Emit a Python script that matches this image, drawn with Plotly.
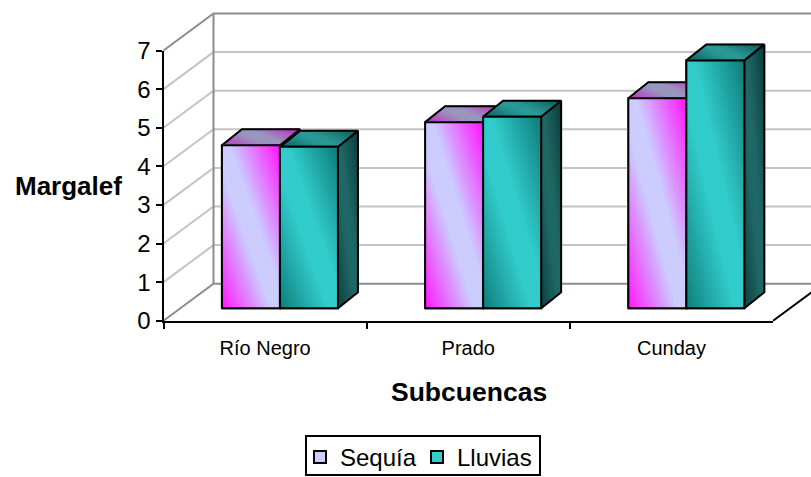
import plotly.graph_objects as go

categories = ["Río Negro", "Prado", "Cunday"]
series_names = ["Sequía", "Lluvias"]
sequia = [4.22, 4.82, 5.44]
lluvias = [4.18, 4.96, 6.42]
y_ticks = [0, 1, 2, 3, 4, 5, 6, 7]

W, H = 811, 477
CAT_PX, VAL_PX = 203.2, 38.6      # pixels per category / per unit of value
ORIGIN_X, ORIGIN_Y = 163.5, 320.7  # front-left corner of the floor

WALL_DX, WALL_DY = 50 / CAT_PX, 37 / VAL_PX   # depth of the whole box
BAR_SHIFT_X, BAR_BASE = 0.073, 12.5 / VAL_PX  # bars sit partway into the box
BAR_W = 58 / CAT_PX
BAR_DX, BAR_DY = 20 / CAT_PX, 16 / VAL_PX     # depth of one bar

x_min = -0.5 - ORIGIN_X / CAT_PX
x_max = x_min + W / CAT_PX
y_min = -(H - ORIGIN_Y) / VAL_PX
y_max = ORIGIN_Y / VAL_PX

FACE_COLORS = {
    "Sequía": {
        "front": ((204, 204, 255), (255, 20, 255)),
        "top": ((152, 152, 190), (196, 40, 196)),
        "side": ((100, 100, 150), (70, 20, 90)),
    },
    "Lluvias": {
        "front": ((51, 204, 204), (14, 125, 122)),
        "top": ((42, 152, 150), (14, 92, 90)),
        "side": ((31, 104, 102), (12, 62, 62)),
    },
}
SWATCH = {"Sequía": "#CCCCFF", "Lluvias": "#33CCCC"}


def clip_halfplane(poly, limit, keep_above):
    """Clip a polygon in (s, t) against the line s + t = limit."""
    out = []
    for i, p in enumerate(poly):
        q = poly[(i + 1) % len(poly)]
        dp, dq = p[0] + p[1] - limit, q[0] + q[1] - limit
        if not keep_above:
            dp, dq = -dp, -dq
        if dp >= 0:
            out.append(p)
        if dp * dq < 0:
            r = dp / (dp - dq)
            out.append((p[0] + r * (q[0] - p[0]), p[1] + r * (q[1] - p[1])))
    return out


def add_face(fig, origin, e1, e2, colors, strips):
    """Fill a parallelogram with a two-ended diagonal gradient, then outline it."""
    mid, edge = colors
    square = [(0, 0), (1, 0), (1, 1), (0, 1)]
    for k in range(strips):
        a, b = 2 * k / strips, 2 * (k + 1) / strips
        poly = clip_halfplane(clip_halfplane(square, a, True), b, False)
        if len(poly) < 3:
            continue
        u = (a + b) / 4
        m = max(0.0, (abs(2 * u - 1) - 0.15) / 0.85)
        c = [round(mid[i] + m * (edge[i] - mid[i])) for i in range(3)]
        col = f"rgb({c[0]},{c[1]},{c[2]})"
        xs = [origin[0] + s * e1[0] + t * e2[0] for s, t in poly]
        ys = [origin[1] + s * e1[1] + t * e2[1] for s, t in poly]
        fig.add_trace(go.Scatter(
            x=xs + xs[:1], y=ys + ys[:1], mode="lines", fill="toself",
            fillcolor=col, line=dict(color=col, width=1.5),
            showlegend=False, hoverinfo="skip"))
    corners = [(0, 0), (1, 0), (1, 1), (0, 1), (0, 0)]
    fig.add_trace(go.Scatter(
        x=[origin[0] + s * e1[0] + t * e2[0] for s, t in corners],
        y=[origin[1] + s * e1[1] + t * e2[1] for s, t in corners],
        mode="lines", line=dict(color="black", width=2),
        showlegend=False, hoverinfo="skip"))


def add_line(fig, xs, ys, color, width):
    fig.add_trace(go.Scatter(x=xs, y=ys, mode="lines",
                             line=dict(color=color, width=width),
                             showlegend=False, hoverinfo="skip"))


fig = go.Figure()

# Flat bars carry the series values and the legend swatches; the shaded faces
# are painted over them in the same coordinates.
for name, values, sign in ((series_names[0], sequia, -0.5), (series_names[1], lluvias, 0.5)):
    fig.add_trace(go.Bar(
        x=[i + BAR_SHIFT_X + sign * BAR_W for i in range(len(categories))],
        y=values, base=BAR_BASE, width=BAR_W, name=name,
        marker=dict(color=SWATCH[name], line=dict(color="black", width=2)),
        hoverinfo="skip"))

# Walls and gridlines of the box
x_l, x_r = -0.5, len(categories) - 0.5
for v in y_ticks[1:-1]:
    add_line(fig, [x_l, x_l + WALL_DX, x_max], [v, v + WALL_DY, v + WALL_DY], "#C4C4C4", 2)
add_line(fig, [x_l, x_l + WALL_DX, x_max],
         [y_ticks[-1], y_ticks[-1] + WALL_DY, y_ticks[-1] + WALL_DY], "#8C8C8C", 2)
add_line(fig, [x_l + WALL_DX, x_l + WALL_DX], [WALL_DY, y_ticks[-1] + WALL_DY], "#8C8C8C", 2)
add_line(fig, [x_l, x_l + WALL_DX, x_max], [0, WALL_DY, WALL_DY], "#8C8C8C", 2)
add_line(fig, [x_r, x_r + WALL_DX], [0, WALL_DY], "black", 2)

# Bars, drawn left to right so nearer faces overlap correctly
for i in range(len(categories)):
    for name, values, left in ((series_names[0], sequia, i + BAR_SHIFT_X - BAR_W),
                               (series_names[1], lluvias, i + BAR_SHIFT_X)):
        v = values[i]
        pal = FACE_COLORS[name]
        add_face(fig, (left + BAR_W, BAR_BASE), (BAR_DX, BAR_DY), (0, v), pal["side"], 14)
        add_face(fig, (left, BAR_BASE + v), (BAR_W, 0), (BAR_DX, BAR_DY), pal["top"], 14)
        add_face(fig, (left, BAR_BASE), (BAR_W, 0), (0, v), pal["front"], 64)

# Real axes on the front plane of the box, for ticks and tick labels
fig.add_trace(go.Scatter(x=categories, y=[0, 0, 0], mode="none", xaxis="x2", yaxis="y2",
                         showlegend=False, hoverinfo="skip"))

FONT = "Liberation Sans, Arial, sans-serif"
fig.update_layout(
    width=W, height=H, autosize=False,
    margin=dict(l=0, r=0, t=0, b=0, autoexpand=False),
    paper_bgcolor="rgba(255,255,255,1)", plot_bgcolor="rgba(0,0,0,0)",
    barmode="overlay",
    font=dict(family=FONT, color="black"),
    xaxis=dict(range=[x_min, x_max], domain=[0, 1], visible=False, fixedrange=True),
    yaxis=dict(range=[y_min, y_max], domain=[0, 1], visible=False, fixedrange=True),
    xaxis2=dict(
        type="category", categoryorder="array", categoryarray=categories,
        range=[-0.5, 2.5], tickson="boundaries",
        domain=[ORIGIN_X / W, (ORIGIN_X + 3 * CAT_PX) / W], anchor="y2",
        showline=True, linecolor="black", linewidth=2, showgrid=False,
        ticks="outside", ticklen=6, tickwidth=1.5, tickcolor="black",
        ticklabelstandoff=8, tickfont=dict(size=20), fixedrange=True, automargin=False),
    yaxis2=dict(
        range=[0, 7], tickvals=y_ticks,
        domain=[(H - ORIGIN_Y) / H, (H - ORIGIN_Y + 7 * VAL_PX) / H], anchor="x2",
        showline=True, linecolor="black", linewidth=2, showgrid=False, zeroline=False,
        ticks="outside", ticklen=6, tickwidth=1.5, tickcolor="black",
        tickfont=dict(size=24), fixedrange=True, automargin=False),
    legend=dict(
        orientation="h", x=300 / W, y=1 - 435 / H, xanchor="left", yanchor="top",
        bgcolor="rgba(0,0,0,0)", borderwidth=0,
        itemwidth=30, entrywidth=72, entrywidthmode="pixels", font=dict(size=24)),
    shapes=[dict(type="rect", xref="paper", yref="paper",
                 x0=306 / W, x1=540 / W, y0=1 - 475 / H, y1=1 - 436 / H,
                 line=dict(color="black", width=2), fillcolor="white", layer="above")],
    annotations=[
        dict(text="<b>Margalef</b>", xref="paper", yref="paper",
             x=68 / W, y=1 - 186 / H, xanchor="center", yanchor="middle",
             showarrow=False, font=dict(size=26)),
        dict(text="<b>Subcuencas</b>", xref="paper", yref="paper",
             x=469 / W, y=1 - 392 / H, xanchor="center", yanchor="middle",
             showarrow=False, font=dict(size=26.5)),
    ],
)

fig.write_html("out.html", config={"displayModeBar": False})
